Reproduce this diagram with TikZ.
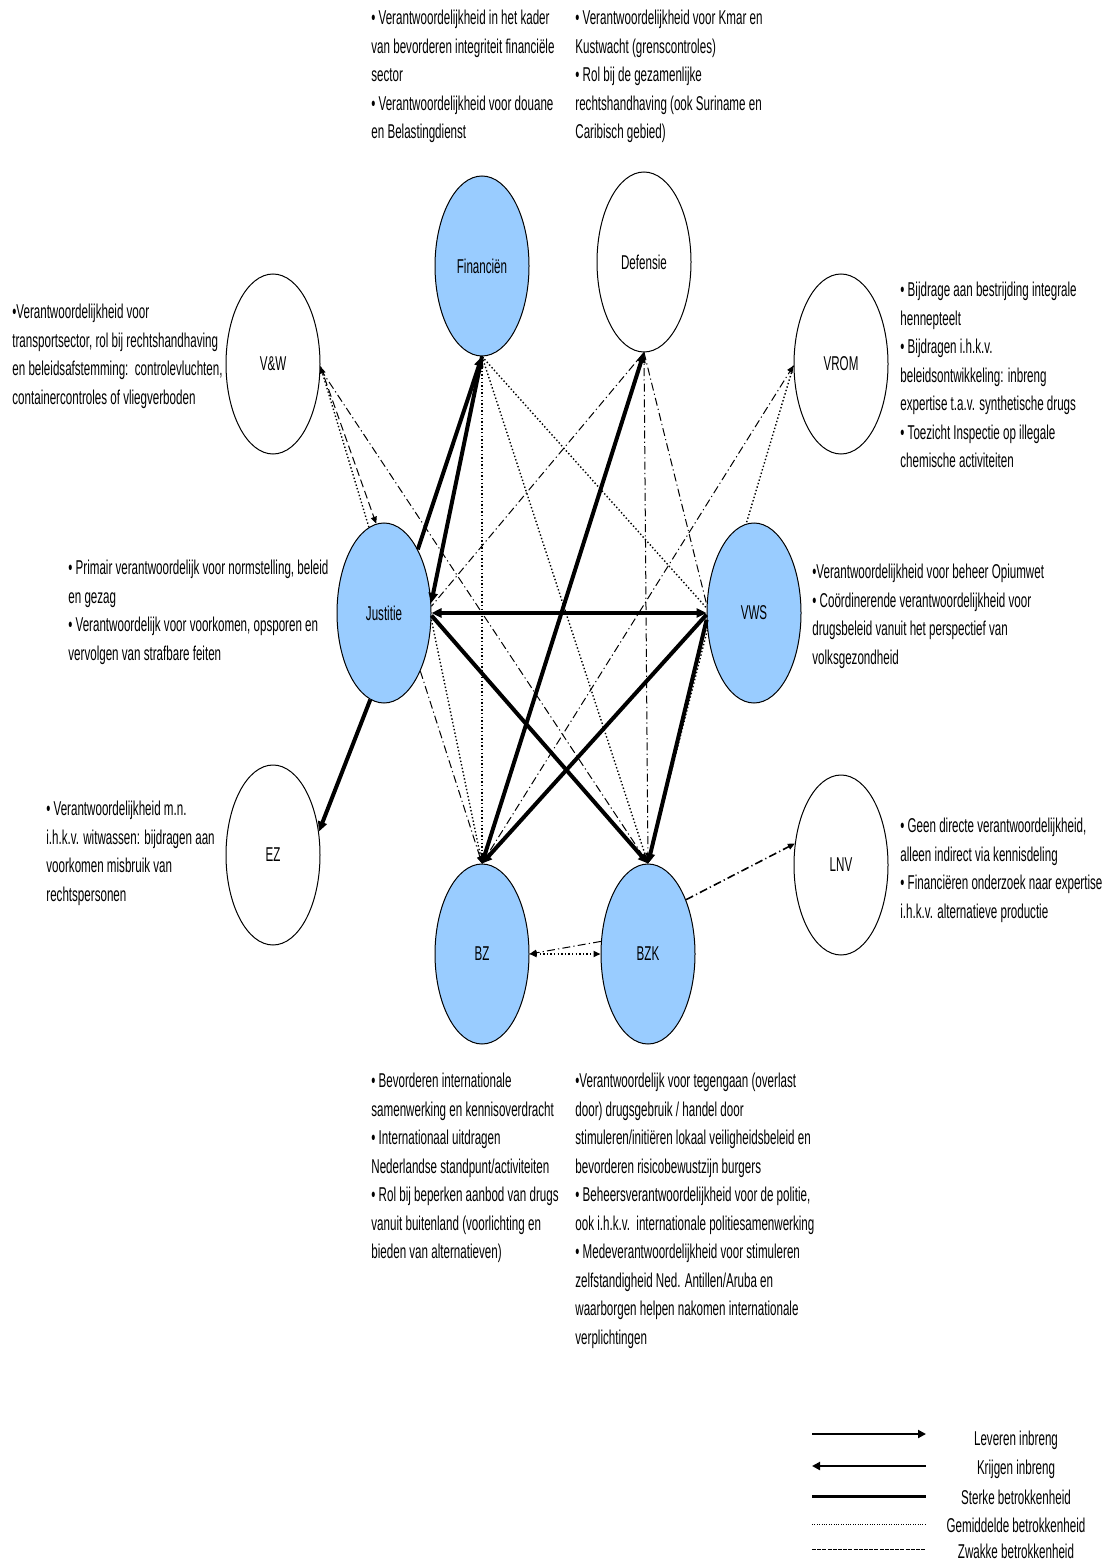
\documentclass[tikz,border=0pt]{standalone}
\usepackage{fontspec}
\setmainfont[FakeStretch=0.58]{Liberation Sans}
\usepackage{tikz}
\usetikzlibrary{arrows.meta,shapes.geometric}
\definecolor{LBlue}{HTML}{99CCFF}

\begin{document}
\begin{tikzpicture}[x=0.5pt, y=-0.5pt,
  font=\fontsize{10}{14.25}\selectfont,
  org/.style={ellipse, draw, line width=0.5pt, minimum width=47pt, minimum height=90pt, inner sep=0pt},
  kern/.style={org, fill=LBlue},
  txt/.style={anchor=north west, align=left, inner sep=0pt},
  leg/.style={inner sep=0pt},
  sterk/.style={line width=2pt},
  gem/.style={line width=0.7pt, dash pattern=on 0.7pt off 1.1pt},
  zwak/.style={line width=0.5pt, dash pattern=on 4pt off 1.6pt on 0.6pt off 1.6pt},
  pijl/.style={-{Triangle[length=3.5pt,width=3pt]}},
  pijlb/.style={{Triangle[length=3.5pt,width=3pt]}-{Triangle[length=3.5pt,width=3pt]}},
  >={Triangle[length=5pt,width=4.5pt]}
]
  \useasboundingbox (0,0) rectangle (1109,1561);

  % ministeries
  \node[kern] (fin) at (482,266) {Financiën};
  \node[org] (def) at (644,262) {Defensie};
  \node[org] (vw) at (273,364) {V\&W};
  \node[org] (vrom) at (841,364) {VROM};
  \node[kern] (jus) at (384,613) {Justitie};
  \node[kern] (vws) at (754,613) {VWS};
  \node[org] (ez) at (273,855) {EZ};
  \node[org] (lnv) at (841,865) {LNV};
  \node[kern] (bz) at (482,954) {BZ};
  \node[kern] (bzk) at (648,954) {BZK};

  % taken
  \node[txt] (tfin) at (371,10) {• Verantwoordelijkheid in het kader\\van bevorderen integriteit financiële\\sector\\• Verantwoordelijkheid voor douane\\en Belastingdienst};
  \node[txt] (tdef) at (575,10) {• Verantwoordelijkheid voor Kmar en\\Kustwacht (grenscontroles)\\• Rol bij de gezamenlijke\\rechtshandhaving (ook Suriname en\\Caribisch gebied)};
  \node[txt] (tvw) at (12,304) {•Verantwoordelijkheid voor\\transportsector, rol bij rechtshandhaving\\en beleidsafstemming:~~controlevluchten,\\containercontroles of vliegverboden};
  \node[txt] (tvrom) at (900,282) {• Bijdrage aan bestrijding integrale\\hennepteelt\\• Bijdragen i.h.k.v.\\beleidsontwikkeling: inbreng\\expertise t.a.v. synthetische drugs\\• Toezicht Inspectie op illegale\\chemische activiteiten};
  \node[txt] (tjus) at (68,560) {• Primair verantwoordelijk voor normstelling, beleid\\en gezag\\• Verantwoordelijk voor voorkomen, opsporen en\\vervolgen van strafbare feiten};
  \node[txt] (tvws) at (812,564) {•Verantwoordelijkheid voor beheer Opiumwet\\• Coördinerende verantwoordelijkheid voor\\drugsbeleid vanuit het perspectief van\\volksgezondheid};
  \node[txt] (tez) at (46,801) {• Verantwoordelijkheid m.n.\\i.h.k.v. witwassen: bijdragen aan\\voorkomen misbruik van\\rechtspersonen};
  \node[txt] (tlnv) at (900,818) {• Geen directe verantwoordelijkheid,\\alleen indirect via kennisdeling\\• Financiëren onderzoek naar expertise\\i.h.k.v. alternatieve productie};
  \node[txt] (tbz) at (371,1073) {• Bevorderen internationale\\samenwerking en kennisoverdracht\\• Internationaal uitdragen\\Nederlandse standpunt/activiteiten\\• Rol bij beperken aanbod van drugs\\vanuit buitenland (voorlichting en\\bieden van alternatieven)};
  \node[txt] (tbzk) at (575,1073) {•Verantwoordelijk voor tegengaan (overlast\\door) drugsgebruik / handel door\\stimuleren/initiëren lokaal veiligheidsbeleid en\\bevorderen risicobewustzijn burgers\\• Beheersverantwoordelijkheid voor de politie,\\ook i.h.k.v.~~internationale politiesamenwerking\\• Medeverantwoordelijkheid voor stimuleren\\zelfstandigheid Ned. Antillen/Aruba en\\waarborgen helpen nakomen internationale\\verplichtingen};

  % sterke betrokkenheid
  \draw[sterk,->] (jus.62) -- (fin.south);
  \draw[sterk,->] (fin.south) -- (jus.12);
  \draw[sterk,<->] (jus.east) -- (vws.west);
  \draw[sterk,->] (jus.-3) -- (bzk.north);
  \draw[sterk,<->] (def.south) -- (bz.north);
  \draw[sterk,->] (vws.-178) -- (bz.north);
  \draw[sterk,->] (vws.-172) -- (bzk.north);
  \draw[sterk,->] (jus.-99) -- (ez.27);

  % gemiddelde betrokkenheid
  \draw[gem,pijl] (jus.100) -- (vw.-3);
  \draw[gem,pijl] (fin.south) -- (bz.north);
  \draw[gem,pijl] (fin.south) -- (bzk.north);
  \draw[gem] (fin.south) -- (vws.174);
  \draw[gem,pijl] (jus.-8) -- (bz.north);
  \draw[gem] (vrom.182) -- (vws.95);
  \draw[gem,pijl] (vws.-160) -- (bzk.north);
  \draw[gem,line width=1.2pt,pijlb] (bz.east) -- (bzk.west);

  % zwakke betrokkenheid
  \draw[line width=0.5pt,dash pattern=on 4pt off 2pt,pijl] (vw.-3) -- (jus.95);
  \draw[zwak] (vw.-6) -- (bzk.north);
  \draw[zwak] (def.south) -- (jus.8);
  \draw[zwak,pijl] (def.south) -- (bzk.north);
  \draw[zwak] (def.south) -- (vws.170);
  \draw[zwak,pijl] (bz.north) -- (vrom.182);
  \draw[zwak,pijl] (jus.-58) -- (bz.north);
  \draw[zwak,pijl] (bzk.165) -- (bz.east);
  \draw[zwak,line width=0.8pt,pijl] (bzk.55) -- (lnv.155);

  % legenda
  \coordinate (la1) at (812,1434); \coordinate (lb1) at (926,1434);
  \coordinate (la2) at (812,1466); \coordinate (lb2) at (926,1466);
  \coordinate (la3) at (812,1496); \coordinate (lb3) at (926,1496);
  \coordinate (la4) at (812,1524); \coordinate (lb4) at (926,1524);
  \coordinate (la5) at (812,1549); \coordinate (lb5) at (926,1549);
  \draw[line width=1pt,-{Triangle[length=4pt,width=4pt]}] (la1) -- (lb1);
  \draw[line width=1pt,{Triangle[length=4pt,width=4pt]}-] (la2) -- (lb2);
  \draw[line width=1.5pt] (la3) -- (lb3);
  \draw[line width=0.4pt,dash pattern=on 0.4pt off 0.8pt] (la4) -- (lb4);
  \draw[line width=0.4pt,dash pattern=on 2pt off 0.6pt] (la5) -- (lb5);
  \node[leg] (lt1) at (1016,1440) {Leveren inbreng};
  \node[leg] (lt2) at (1016,1469) {Krijgen inbreng};
  \node[leg] (lt3) at (1016,1497) {Sterke betrokkenheid};
  \node[leg] (lt4) at (1016,1525) {Gemiddelde betrokkenheid};
  \node[leg] (lt5) at (1016,1551) {Zwakke betrokkenheid};
\end{tikzpicture}
\end{document}
